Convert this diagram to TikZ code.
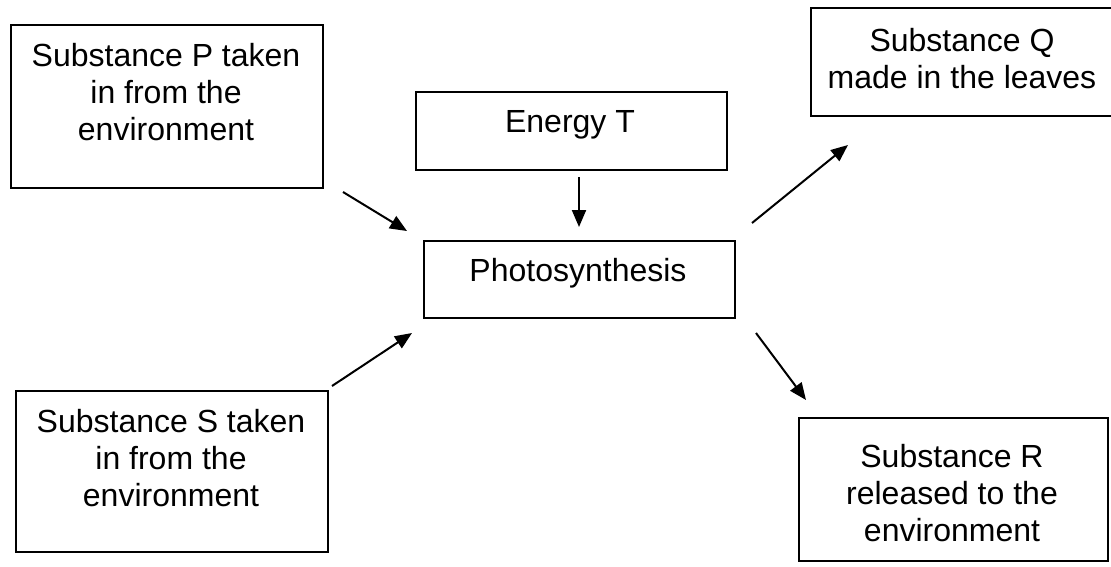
\documentclass[tikz,border=0pt]{standalone}
\usepackage{fontspec}
\setmainfont{Liberation Sans}
\usetikzlibrary{arrows.meta}
\begin{document}
\begin{tikzpicture}[x=1pt,y=-1pt,
  box/.style={draw, line width=1.8pt, inner sep=0pt, anchor=north west},
  txt/.style={align=center, font=\fontsize{32}{36.8}\selectfont, inner sep=0pt},
  arr/.style={line width=2pt, -{Triangle[length=17pt,width=14pt]}}]
\useasboundingbox (0,0) rectangle (1111,566);
% boxes
\node[box, minimum width=312pt, minimum height=163pt] (P) at (10,24) {};
\node[box, minimum width=311pt, minimum height=78pt] (E) at (415,91) {};
\node[box, minimum width=311pt, minimum height=77pt] (Ph) at (423,240) {};
\node[box, minimum width=306pt, minimum height=108pt] (Q) at (810,7) {};
\node[box, minimum width=312pt, minimum height=161pt] (S) at (15,390) {};
\node[box, minimum width=309pt, minimum height=143pt] (R) at (798,417) {};
% texts
\node[txt] (Pt) at (166,92) {Substance P taken\\in from the\\environment};
\node[txt] (Et) at (570,124.5) {Energy T};
\node[txt] (Pht) at (578,273.5) {Photosynthesis};
\node[txt] (Qt) at (962,58.5) {Substance Q\\made in the leaves};
\node[txt] (St) at (171,458) {Substance S taken\\in from the\\environment};
\node[txt] (Rt) at (952,493) {Substance R\\released to the\\environment};
% arrow ends
\coordinate (a1s) at (343,192); \coordinate (a1e) at (407,231);
\coordinate (a2s) at (332,386); \coordinate (a2e) at (412,333);
\coordinate (a3s) at (579,177); \coordinate (a3e) at (579,227);
\coordinate (a4s) at (752,223); \coordinate (a4e) at (848,145);
\coordinate (a5s) at (756,333); \coordinate (a5e) at (806,400);
\draw[arr] (a1s) -- (a1e);
\draw[arr] (a2s) -- (a2e);
\draw[arr] (a3s) -- (a3e);
\draw[arr] (a4s) -- (a4e);
\draw[arr] (a5s) -- (a5e);
\end{tikzpicture}
\end{document}
